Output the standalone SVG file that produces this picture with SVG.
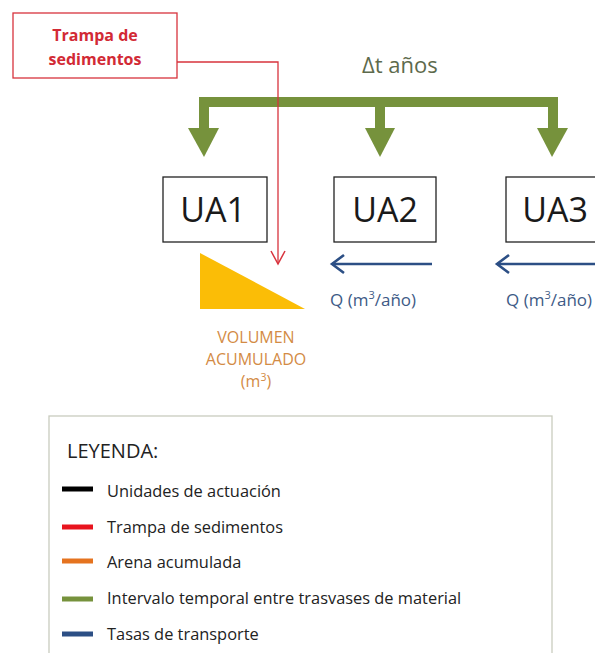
<svg xmlns="http://www.w3.org/2000/svg" width="595" height="653" viewBox="0 0 595 653">
<style>
.t{font-family:"Open Sans","Liberation Sans",sans-serif}
.ua{fill:#fff;stroke:#222;stroke-width:1.3}
.uat{font-size:34px;fill:#1a1a1a;text-anchor:middle}
.q{font-size:17px;fill:#3d5a86}
.vol{font-size:16px;fill:#d38b45;text-anchor:middle}
.lg{font-size:16.4px;fill:#222}
.sw{stroke-width:5}
.green{fill:#76923c}
.blue{stroke:#2c4f85;stroke-width:2.6;fill:none}
</style>
<rect width="595" height="653" fill="#fff"/>
<g id="trampa">
<rect x="13" y="13" width="164" height="65" fill="#fff" stroke="#d8333d" stroke-width="1.3"/>
<text class="t" x="95" y="41" font-size="16" font-weight="bold" fill="#d22a35" text-anchor="middle">Trampa de</text>
<text class="t" x="95" y="65" font-size="16" font-weight="bold" fill="#d22a35" text-anchor="middle">sedimentos</text>
</g>
<text id="dt" class="t" x="362" y="73" font-size="22" fill="#5d6a4c">Δt años</text>
<g id="connectors">
<g id="green-arrows" class="green">
<rect x="199" y="97" width="359" height="10"/>
<rect x="199" y="97" width="10" height="32"/>
<polygon points="188,128 219,128 204,157"/>
<rect x="375" y="97" width="10" height="32"/>
<polygon points="365,128 395,128 380,157"/>
<rect x="548" y="97" width="10" height="32"/>
<polygon points="537,128 568,128 552,157"/>
</g>
<polyline points="177,62 278,62 278,264" fill="none" stroke="#d8333d" stroke-width="1.3"/>
<polyline points="271,251 278,264 285,251" fill="none" stroke="#d8333d" stroke-width="1.5"/>
<line class="blue" x1="432" y1="264" x2="332" y2="264"/>
<polyline class="blue" points="344,255 332,264 344,273"/>
<line class="blue" x1="600" y1="264" x2="497" y2="264"/>
<polyline class="blue" points="509,255 497,264 509,273"/>
</g>
<g id="ua1">
<rect class="ua" x="163" y="177" width="104" height="65"/>
<text class="t uat" x="213" y="222">UA1</text>
</g>
<g id="ua2">
<rect class="ua" x="334" y="177" width="102" height="65"/>
<text class="t uat" x="385" y="222">UA2</text>
</g>
<g id="ua3">
<rect class="ua" x="506" y="177" width="102" height="65"/>
<text class="t uat" x="555" y="222">UA3</text>
</g>
<g id="volumen">
<polygon points="200,253 200,309 305,309" fill="#fbbd06"/>
<text class="t vol" x="256" y="343">VOLUMEN</text>
<text class="t vol" x="256" y="365">ACUMULADO</text>
<text class="t vol" x="256" y="387">(m<tspan font-size="10.5" dy="-6">3</tspan><tspan dy="6">)</tspan></text>
</g>
<text class="t q" x="330" y="306">Q (m<tspan font-size="11" dy="-7">3</tspan><tspan dy="7">/año)</tspan></text>
<text class="t q" x="506" y="306">Q (m<tspan font-size="11" dy="-7">3</tspan><tspan dy="7">/año)</tspan></text>
<g id="legend">
<rect x="49" y="416" width="503" height="250" fill="#fff" stroke="#c9ccbf" stroke-width="1.3"/>
<text class="t" x="67" y="458" font-size="20" fill="#222">LEYENDA:</text>
<line class="sw" x1="62" y1="489" x2="93" y2="489" stroke="#000"/>
<text class="t lg" x="107" y="497">Unidades de actuación</text>
<line class="sw" x1="62" y1="527" x2="93" y2="527" stroke="#e8141e"/>
<text class="t lg" x="107" y="533">Trampa de sedimentos</text>
<line class="sw" x1="62" y1="561" x2="93" y2="561" stroke="#e5731f"/>
<text class="t lg" x="107" y="568">Arena acumulada</text>
<line class="sw" x1="62" y1="599" x2="93" y2="599" stroke="#76923c"/>
<text class="t lg" x="107" y="604">Intervalo temporal entre trasvases de material</text>
<line class="sw" x1="62" y1="634" x2="93" y2="634" stroke="#2c4f85"/>
<text class="t lg" x="107" y="640">Tasas de transporte</text>
</g>
</svg>
